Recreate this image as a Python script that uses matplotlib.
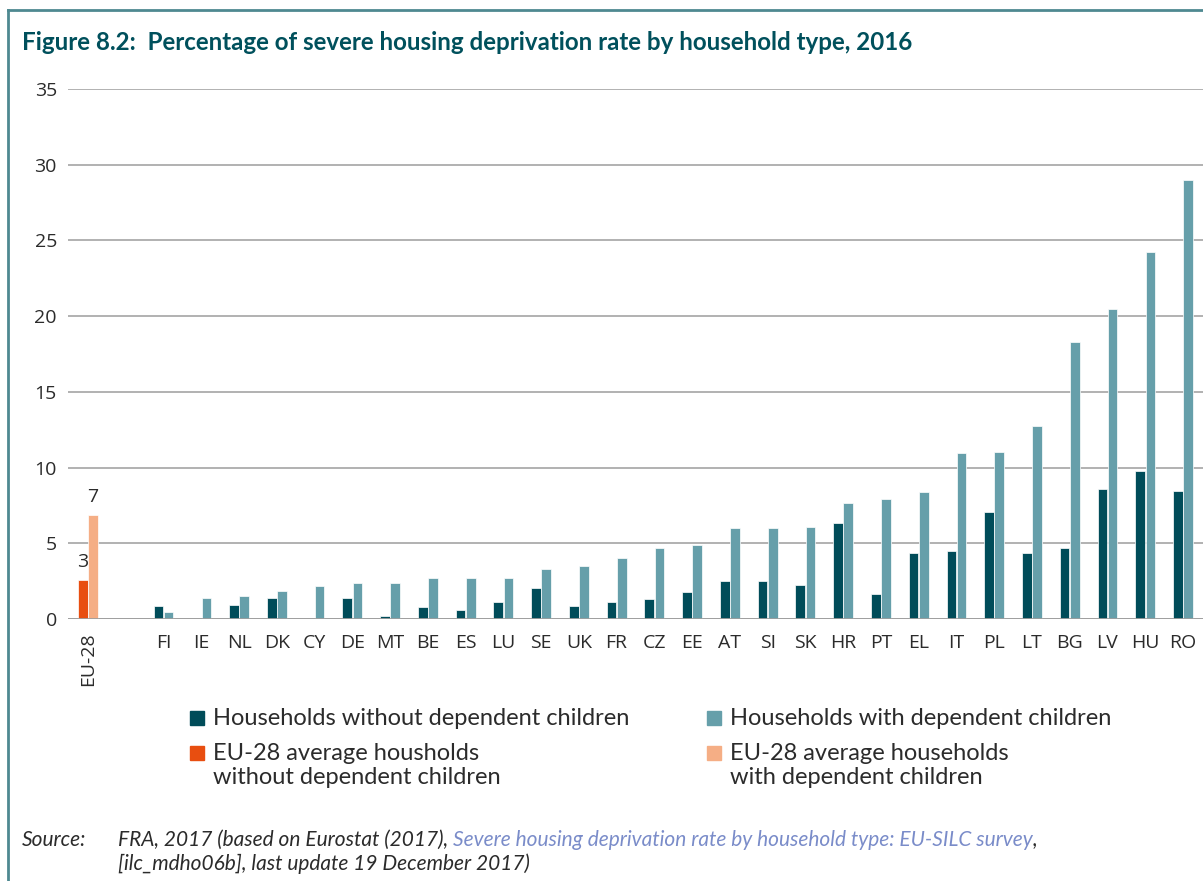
import matplotlib
matplotlib.use("Agg")
import matplotlib.pyplot as plt
from matplotlib.patches import Rectangle
from matplotlib.lines import Line2D
import numpy as np

# Severe housing deprivation rate (%) by household type, 2016
countries = ["FI", "IE", "NL", "DK", "CY", "DE", "MT", "BE", "ES", "LU", "SE", "UK",
             "FR", "CZ", "EE", "AT", "SI", "SK", "HR", "PT", "EL", "IT", "PL", "LT",
             "BG", "LV", "HU", "RO"]
without_children = [0.86, 0.0, 0.95, 1.41, 0.0, 1.41, 0.22, 0.77, 0.57, 1.15, 2.08, 0.86,
                    1.15, 1.35, 1.79, 2.54, 2.54, 2.25, 6.33, 1.68, 4.37, 4.48, 7.09, 4.37,
                    4.66, 8.57, 9.78, 8.48]
with_children = [0.48, 1.41, 1.52, 1.88, 2.17, 2.35, 2.35, 2.72, 2.72, 2.72, 3.29, 3.47,
                 4.02, 4.68, 4.86, 5.99, 5.99, 6.08, 7.63, 7.90, 8.37, 10.97, 11.06, 12.73,
                 18.32, 20.46, 24.24, 29.0]
eu_label = "EU-28"
eu_without = 2.6
eu_with = 6.9
y_ticks = [0, 5, 10, 15, 20, 25, 30, 35]

DARK = "#004C59"
LIGHT = "#669FAA"
ORANGE = "#E84E10"
PEACH = "#F5AE85"
TITLE_C = "#00505C"
FRAME_C = "#4E8991"
TEXT_C = "#2B2B2B"

plt.rcParams["font.family"] = ["Open Sans", "DejaVu Sans"]

fig = plt.figure(figsize=(12.03, 8.81), dpi=100)
ax = fig.add_axes([68 / 1203, (881 - 619) / 881, 1 - 68 / 1203, 530 / 881])

bw = 0.255
off = 0.135
x_c = np.arange(len(countries)) + 2
ax.bar(x_c - off, without_children, bw, color=DARK, edgecolor="white", linewidth=0.5, zorder=3)
ax.bar(x_c + off, with_children, bw, color=LIGHT, edgecolor="white", linewidth=0.5, zorder=3)
b1 = ax.bar([0 - off], [eu_without], bw, color=ORANGE, edgecolor="white", linewidth=0.5, zorder=3)
b2 = ax.bar([0 + off], [eu_with], bw, color=PEACH, edgecolor="white", linewidth=0.5, zorder=3)
for b, v in ((b1[0], eu_without), (b2[0], eu_with)):
    ax.annotate(f"{v:.0f}", (b.get_x() + b.get_width() / 2, v), xytext=(0, 6),
                textcoords="offset points", ha="center", va="bottom",
                fontsize=14, color=TEXT_C)

ax.set_xlim(-0.53, 29.53)
ax.set_ylim(0, 35)
ax.set_yticks(y_ticks)
ax.set_yticklabels([str(t) for t in y_ticks])
ax.yaxis.grid(True, color="#ABABAB", linewidth=1.3, zorder=0)
ax.axhline(0, color="#9E9E9E", linewidth=2.0, zorder=4)
for s in ax.spines.values():
    s.set_visible(False)
ax.tick_params(axis="both", length=0, labelsize=14, colors=TEXT_C)
ax.tick_params(axis="y", pad=8)
ax.set_xticks([])
for x, lab in zip(x_c, countries):
    ax.text(x, -1.0, lab, ha="center", va="top", fontsize=14, color=TEXT_C)
ax.text(0, -0.9, eu_label, ha="center", va="top", rotation=90, fontsize=14, color=TEXT_C)

# frame
fig.add_artist(Line2D([8 / 1203, 8 / 1203], [0, 1 - 10 / 881], color=FRAME_C, lw=2,
                      transform=fig.transFigure))
fig.add_artist(Line2D([8 / 1203, 1], [1 - 10 / 881, 1 - 10 / 881], color=FRAME_C, lw=2,
                      transform=fig.transFigure))

fig.text(22 / 1203, 1 - 43 / 881, "Figure 8.2:  Percentage of severe housing deprivation rate by household type, 2016",
         fontsize=17.4, fontweight="bold", color=TITLE_C, va="center", ha="left",
         family=["Lato", "DejaVu Sans"])

# legend
legend_items = [
    (190, 718, DARK, "Households without dependent children"),
    (707, 718, LIGHT, "Households with dependent children"),
    (190, 753, ORANGE, "EU-28 average housholds\nwithout dependent children"),
    (707, 753, PEACH, "EU-28 average households\nwith dependent children"),
]
for px, py, col, lab in legend_items:
    fig.add_artist(Rectangle((px / 1203, 1 - (py + 7) / 881), 14 / 1203, 14 / 881,
                             color=col, transform=fig.transFigure))
    fig.text((px + 23) / 1203, 1 - (py - 10) / 881, lab, fontsize=17, color=TEXT_C,
             va="top", ha="left", linespacing=1.18, family=["Lato", "DejaVu Sans"])

# source
src_kw = dict(fontsize=15, style="italic", family=["Lato", "DejaVu Sans"])
fig.text(22 / 1203, 1 - 840 / 881, "Source:", color=TEXT_C, va="center", **src_kw)
t1 = fig.text(118 / 1203, 1 - 840 / 881, "FRA, 2017 (based on Eurostat (2017), ", color=TEXT_C,
              va="center", **src_kw)
t2 = ax.annotate("Severe housing deprivation rate by household type: EU-SILC survey",
                 xy=(1, 0), xycoords=t1, va="bottom", ha="left", color="#7A8CC9",
                 annotation_clip=False, **src_kw)
ax.annotate(",", xy=(1, 0), xycoords=t2, va="bottom", ha="left",
            color=TEXT_C, annotation_clip=False, **src_kw)
fig.text(118 / 1203, 1 - 864 / 881, "[ilc_mdho06b], last update 19 December 2017)",
         color=TEXT_C, va="center", **src_kw)

fig.savefig("out.png", dpi=100, facecolor="white")
